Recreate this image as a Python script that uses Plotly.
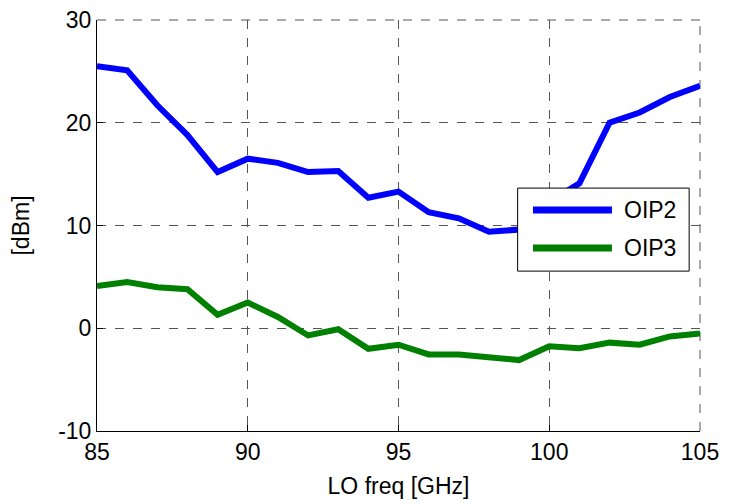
import plotly.graph_objects as go

freq = [85, 86, 87, 88, 89, 90, 91, 92, 93, 94, 95, 96, 97, 98, 99, 100, 101, 102, 103, 104, 105]
oip2 = [25.5, 25.1, 21.7, 18.8, 15.2, 16.5, 16.1, 15.2, 15.3, 12.7, 13.3, 11.3, 10.7, 9.4, 9.6, 12.3, 14.1, 20.0, 21.0, 22.5, 23.6]
oip3 = [4.1, 4.5, 4.0, 3.8, 1.3, 2.5, 1.1, -0.7, -0.1, -2.0, -1.6, -2.55, -2.55, -2.8, -3.1, -1.75, -1.95, -1.4, -1.6, -0.8, -0.5]
series_names = ["OIP2", "OIP3"]
series_colors = ["#0000FF", "#008000"]
x_ticks = [85, 90, 95, 100, 105]
y_ticks = [-10, 0, 10, 20, 30]
y_ticktext = ["-10", "0", "10", "20", "30"]

font = "Liberation Sans, Arial, sans-serif"

fig = go.Figure()
for name, vals, col in zip(series_names, [oip2, oip3], series_colors):
    fig.add_trace(go.Scatter(x=freq, y=vals, mode="lines", name=name,
                             line=dict(color=col, width=6), showlegend=False))

axis_common = dict(
    showgrid=True, gridcolor="#555555", griddash="dash", gridwidth=1,
    showline=True, linecolor="black", linewidth=1, mirror=False,
    ticks="inside", ticklen=6, tickcolor="black",
    tickfont=dict(family=font, size=23, color="black"),
    zeroline=False, automargin=False, ticklabeloverflow="allow",
)

fig.update_layout(
    width=724, height=496,
    margin=dict(l=89, r=32, t=12, b=73),
    paper_bgcolor="white", plot_bgcolor="white",
    font=dict(family=font, color="black"),
    xaxis=dict(range=[85, 105], tickvals=x_ticks, **axis_common,
               title=dict(text="LO freq [GHz]", font=dict(family=font, size=23), standoff=14)),
    yaxis=dict(range=[-10, 30], tickvals=y_ticks, ticktext=y_ticktext, **axis_common,
               title=dict(text="[dBm]", font=dict(family=font, size=23), standoff=22)),
    showlegend=False,
)

# dashed grid lines on the top and right edges (plotly omits edge gridlines)
fig.add_shape(type="line", xref="paper", yref="paper", x0=0, x1=1, y0=1, y1=1,
              line=dict(color="#555555", width=1, dash="dash"), layer="below")
fig.add_shape(type="line", xref="paper", yref="paper", x0=1, x1=1, y0=0, y1=1,
              line=dict(color="#555555", width=1, dash="dash"), layer="below")

# custom legend (box, line samples, labels) in paper coordinates
lx0, lx1, ly0, ly1 = 0.6976, 0.982, 0.389, 0.591
fig.add_shape(type="rect", xref="paper", yref="paper", x0=lx0, x1=lx1, y0=ly0, y1=ly1,
              line=dict(color="black", width=1), fillcolor="white", layer="above")
for i, (name, col) in enumerate(zip(series_names, series_colors)):
    yy = 0.5377 - i * 0.0924
    fig.add_shape(type="line", xref="paper", yref="paper", x0=0.723, x1=0.854, y0=yy, y1=yy,
                  line=dict(color=col, width=7), layer="above")
    fig.add_annotation(xref="paper", yref="paper", x=0.870, y=yy, text=name, showarrow=False,
                       xanchor="left", yanchor="middle",
                       font=dict(family=font, size=23, color="black"))

fig.write_html("out.html")
